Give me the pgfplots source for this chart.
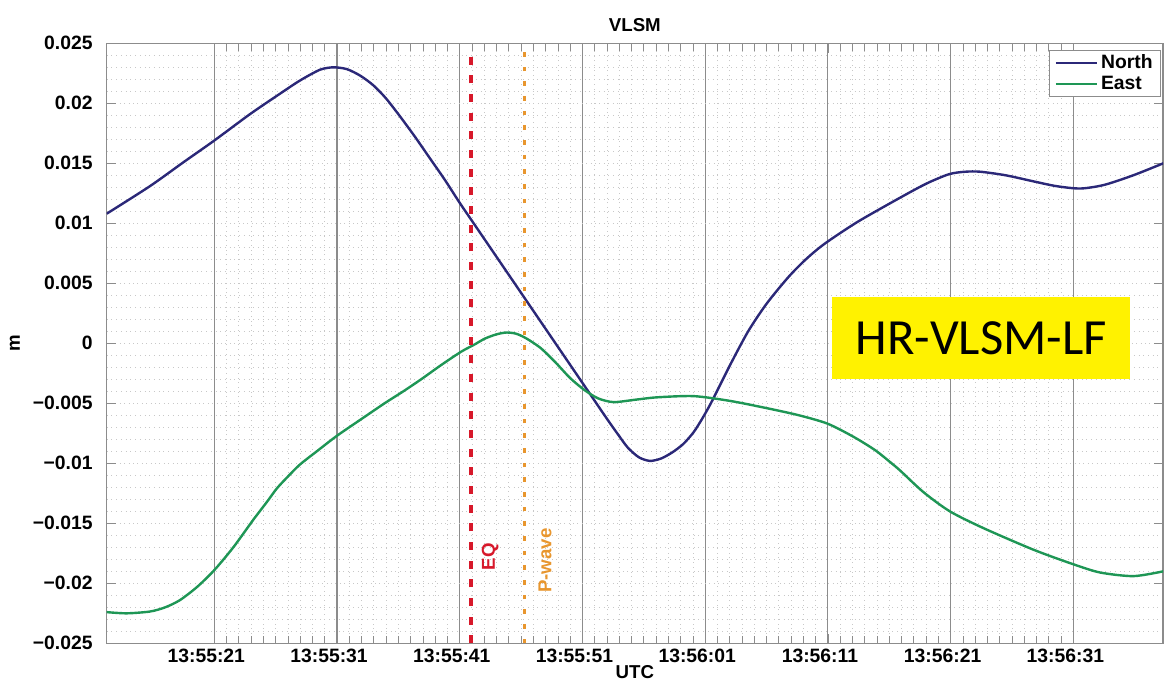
\documentclass[border=0pt]{standalone}
\usepackage{fontspec}
\setmainfont{Liberation Sans}
\newfontfamily\carlito{Carlito}
\usepackage{pgfplots}
\pgfplotsset{compat=1.18}
\definecolor{northc}{RGB}{43,40,120}
\definecolor{eastc}{RGB}{30,150,85}
\definecolor{eqred}{RGB}{215,24,42}
\definecolor{pwave}{RGB}{232,150,46}
\definecolor{axgray}{RGB}{140,140,140}
\definecolor{mgrid}{RGB}{200,200,200}
\begin{document}
\begin{tikzpicture}
\path[use as bounding box] (-80pt,-30.5pt) rectangle (793.75pt,482.5pt);
\begin{axis}[
  scale only axis, width=792.25pt, height=450pt,
  clip mode=individual,
  xmin=12.23, xmax=98.3, ymin=-0.025, ymax=0.025,
  xtick={21,31,41,51,61,71,81,91},
  xticklabels={13:55:21,13:55:31,13:55:41,13:55:51,13:56:01,13:56:11,13:56:21,13:56:31},
  minor x tick num=9,
  ytick={-0.025,-0.02,-0.015,-0.01,-0.005,0,0.005,0.01,0.015,0.02,0.025},
  yticklabels={−0.025,−0.02,−0.015,−0.01,−0.005,0,0.005,0.01,0.015,0.02,0.025},
  scaled y ticks=false,
  minor y tick num=4,
  grid=both,
  major x grid style={axgray, line width=0.8pt, solid},
  major y grid style={mgrid, line width=0.7pt, dash pattern=on 0.7pt off 2.6pt},
  minor grid style={mgrid, line width=0.55pt, dash pattern=on 0.55pt off 3pt},
  tick align=inside,
  major tick length=7pt, minor tick length=5.5pt,
  tick style={axgray, line width=0.6pt},
  minor y tick style={draw=none},
  axis line style={axgray, line width=0.8pt},
  tick label style={font=\bfseries\fontsize{14.5}{16}\selectfont, text=black},
  yticklabel style={xshift=-7pt},
  xticklabel style={yshift=-1pt, xshift=-6pt},
  xlabel={UTC},
  xlabel style={at={(axis description cs:0.5,-0.048)}, anchor=center, font=\bfseries\fontsize{14}{16}\selectfont},
  ylabel={m},
  ylabel style={at={(axis description cs:-0.087,0.5)}, anchor=center, font=\bfseries\fontsize{14}{16}\selectfont},
  legend style={at={(axis description cs:0.998,0.989)}, anchor=north east, draw=axgray, fill=white,
    font=\bfseries\fontsize{14.5}{16}\selectfont, inner xsep=4pt, inner ysep=1.5pt, row sep=0pt},
  legend cell align=left,
  legend image code/.code={\draw[#1, line width=1.8pt] (0pt,0pt) -- (31pt,0pt);},
]
\addplot[northc, line width=1.8pt, smooth, tension=0.45] coordinates {
(12.23,0.0108) (15.76,0.0131) (18.5,0.0151) (21.0,0.0169) (23.91,0.0191)
(26.35,0.0208) (27.98,0.0219) (29.61,0.0228) (30.7,0.0230) (31.8,0.02285)
(32.9,0.0223) (33.96,0.0215) (35.0,0.0204) (36.14,0.0189) (37.36,0.0172)
(38.58,0.0154) (39.8,0.0136) (41.0,0.0117) (42.2,0.0099) (43.4,0.0081)
(44.6,0.0063) (45.8,0.0045) (47.0,0.0027) (48.2,0.0009) (49.4,-0.0009)
(50.6,-0.0027) (51.8,-0.0045) (53.0,-0.0063) (53.9,-0.0076) (54.7,-0.0087)
(55.6,-0.0095) (56.5,-0.0098) (57.4,-0.0096) (58.3,-0.0091) (59.2,-0.0084)
(60.06,-0.0074) (60.8,-0.0062) (61.56,-0.0048) (63.03,-0.0018) (64.5,0.0010)
(66.0,0.0033) (67.76,0.0055) (69.2,0.0070) (70.73,0.0083) (73.38,0.0101)
(76.64,0.0120) (79.0,0.0133) (80.88,0.0141) (82.2,0.0143) (83.41,0.0143)
(85.5,0.0140) (87.73,0.0135) (89.6,0.0131) (91.56,0.0129) (93.5,0.0132)
(95.87,0.0140) (98.32,0.0150)
};
\addlegendentry{North}
\addplot[eastc, line width=1.8pt, smooth, tension=0.45] coordinates {
(12.23,-0.0224) (13.86,-0.0225) (15.76,-0.02235) (17.0,-0.0220) (18.2,-0.0214)
(19.6,-0.0203) (21.0,-0.0189) (22.55,-0.0170) (24.18,-0.0147) (25.3,-0.0132)
(26.09,-0.0121) (27.0,-0.0111) (27.98,-0.0101) (29.35,-0.0090) (31.0,-0.0077)
(33.0,-0.0063) (34.87,-0.0050) (36.4,-0.0040) (37.85,-0.0030) (39.5,-0.0018)
(41.11,-0.0007) (42.2,-0.0001) (43.06,0.0004) (44.0,0.00075) (44.81,0.0009)
(45.6,0.0008) (46.44,0.0004) (47.6,-0.0004) (48.81,-0.0016) (50.0,-0.0029)
(51.17,-0.0039) (52.3,-0.0046) (53.54,-0.0049) (55.3,-0.0047) (57.08,-0.0045)
(60.06,-0.0044) (63.03,-0.0048) (66.0,-0.0054) (68.65,-0.0060) (70.98,-0.0067)
(73.1,-0.0078) (74.84,-0.0089) (76.07,-0.0099) (76.88,-0.0106) (78.78,-0.0124)
(80.93,-0.0140) (83.67,-0.0154) (87.75,-0.0172) (90.96,-0.0184) (93.18,-0.0191)
(95.9,-0.0194) (98.32,-0.0190)
};
\addlegendentry{East}
\addplot[eqred, line width=3pt, dash pattern=on 6pt off 8pt, forget plot] coordinates {(41.93,-0.025) (41.93,0.0245)};
\addplot[pwave, line width=2.2pt, dash pattern=on 3.5pt off 7.5pt, forget plot] coordinates {(46.24,-0.025) (46.24,0.0248)};
\node[font=\bfseries\fontsize{14}{16}\selectfont] at (axis description cs:0.5,1.0305) {VLSM};
\node[rotate=90, text=eqred, font=\bfseries\fontsize{14}{16}\selectfont] at (axis cs:43.47,-0.0178) {EQ};
\node[rotate=90, text=pwave, font=\bfseries\fontsize{14}{16}\selectfont] at (axis cs:47.95,-0.0181) {P-wave};
\node[fill=yellow, minimum width=223.5pt, minimum height=61.5pt, inner sep=0pt, font=\carlito\fontsize{38}{40}\selectfont] at (axis cs:83.48,0.00044) {HR-VLSM-LF};
\end{axis}
\end{tikzpicture}
\end{document}
